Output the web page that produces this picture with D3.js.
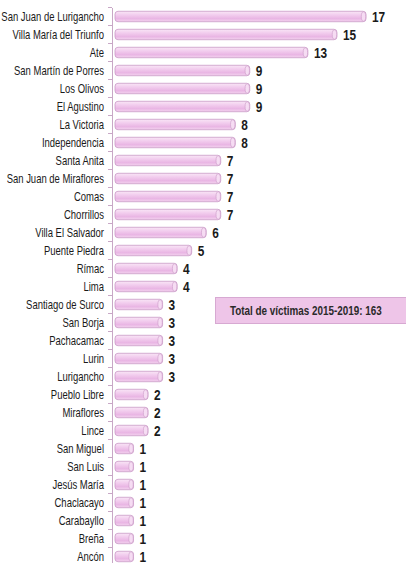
<!DOCTYPE html>
<html>
<head>
<meta charset="utf-8">
<script src="https://cdn.jsdelivr.net/npm/d3@7"></script>
<style>
  body { margin: 0; background: #fff; }
  svg { display: block; }
  .cat { font-family: "Liberation Sans", Arial, sans-serif; font-size: 12px; fill: #1a1a1a; }
  .val { font-family: "Liberation Sans", Arial, sans-serif; font-size: 15px; font-weight: bold; fill: #1a1a1a; }
  .note { font-family: "Liberation Sans", Arial, sans-serif; font-size: 12.5px; font-weight: bold; fill: #2a2a2a; }
</style>
</head>
<body>
<svg id="chart"></svg>
<script>
// Districts (top to bottom) and victims 2015-2019
const districts = [
  'San Juan de Lurigancho', 'Villa María del Triunfo', 'Ate', 'San Martín de Porres',
  'Los Olivos', 'El Agustino', 'La Victoria', 'Independencia', 'Santa Anita',
  'San Juan de Miraflores', 'Comas', 'Chorrillos', 'Villa El Salvador', 'Puente Piedra',
  'Rímac', 'Lima', 'Santiago de Surco', 'San Borja', 'Pachacamac', 'Lurin',
  'Lurigancho', 'Pueblo Libre', 'Miraflores', 'Lince', 'San Miguel', 'San Luis',
  'Jesús María', 'Chaclacayo', 'Carabayllo', 'Breña', 'Ancón'
];
const victims = [17, 15, 13, 9, 9, 9, 8, 8, 7, 7, 7, 7, 6, 5, 4, 4, 3, 3, 3, 3, 3, 2, 2, 2, 1, 1, 1, 1, 1, 1, 1];
const noteText = 'Total de víctimas 2015-2019: 163';

const W = 406, H = 563;
const narrow = 0.79; // no narrow font installed, squeeze text horizontally
const svg = d3.select('#chart').attr('width', W).attr('height', H);

const rows = districts.map((d, i) => ({name: d, value: victims[i]}));

const x = d3.scaleLinear().domain([0, 17]).range([115, 362]);
const y = d3.scaleBand().domain(districts).range([7.5, 565.5]).paddingInner(0.42).paddingOuter(0.21);

// Gradient for the tube-like bars
const defs = svg.append('defs');
const grad = defs.append('linearGradient').attr('id', 'tube')
  .attr('x1', 0).attr('y1', 0).attr('x2', 0).attr('y2', 1);
grad.append('stop').attr('offset', '0%').attr('stop-color', '#f9e6f6');
grad.append('stop').attr('offset', '35%').attr('stop-color', '#f2cdee');
grad.append('stop').attr('offset', '70%').attr('stop-color', '#e9b6e4');
grad.append('stop').attr('offset', '100%').attr('stop-color', '#f3d3ef');

// Category axis
const axis = svg.append('g')
  .attr('transform', 'translate(112,0)')
  .call(d3.axisLeft(y).tickSize(0).tickFormat(''));
axis.select('.domain').attr('stroke', '#c8a8c6');

// Tick marks at band boundaries
const step = y.step();
const bounds = districts.map(d => y(d) - (step - y.bandwidth()) / 2);
svg.append('g').selectAll('line')
  .data(bounds)
  .enter().append('line')
  .attr('x1', 108).attr('x2', 112)
  .attr('y1', d => d).attr('y2', d => d)
  .attr('stroke', '#c8a8c6');

// Labels
svg.append('g').selectAll('text')
  .data(rows)
  .enter().append('text')
  .attr('class', 'cat')
  .attr('transform', d => `translate(104,${y(d.name) + y.bandwidth() / 2}) scale(${narrow},1)`)
  .attr('dy', '0.35em')
  .attr('text-anchor', 'end')
  .text(d => d.name);

// Bars
const bars = svg.append('g').selectAll('g')
  .data(rows)
  .enter().append('g');

bars.append('rect')
  .attr('x', x(0))
  .attr('y', d => y(d.name))
  .attr('width', d => x(d.value) - x(0) + 4)
  .attr('height', y.bandwidth())
  .attr('rx', 3)
  .attr('fill', 'url(#tube)')
  .attr('stroke', '#c99bc6')
  .attr('stroke-width', 0.8);

// End cap
bars.append('ellipse')
  .attr('cx', d => x(d.value) + 1.5)
  .attr('cy', d => y(d.name) + y.bandwidth() / 2)
  .attr('rx', 2.2)
  .attr('ry', y.bandwidth() / 2 - 0.5)
  .attr('fill', '#f6dcf3')
  .attr('stroke', '#c99bc6')
  .attr('stroke-width', 0.6);

bars.append('text')
  .attr('class', 'val')
  .attr('transform', d => `translate(${x(d.value) + 10},${y(d.name) + y.bandwidth() / 2}) scale(${narrow},1)`)
  .attr('dy', '0.35em')
  .text(d => d.value);

// Total box
const box = svg.append('g');
box.append('rect')
  .attr('x', 215.5).attr('y', 297.5)
  .attr('width', 200).attr('height', 26)
  .attr('fill', '#eec5e8')
  .attr('stroke', '#d7a9d2');
box.append('text')
  .attr('class', 'note')
  .attr('transform', `translate(230,311) scale(${narrow},1)`)
  .attr('dy', '0.35em')
  .text(noteText);
</script>
</body>
</html>
